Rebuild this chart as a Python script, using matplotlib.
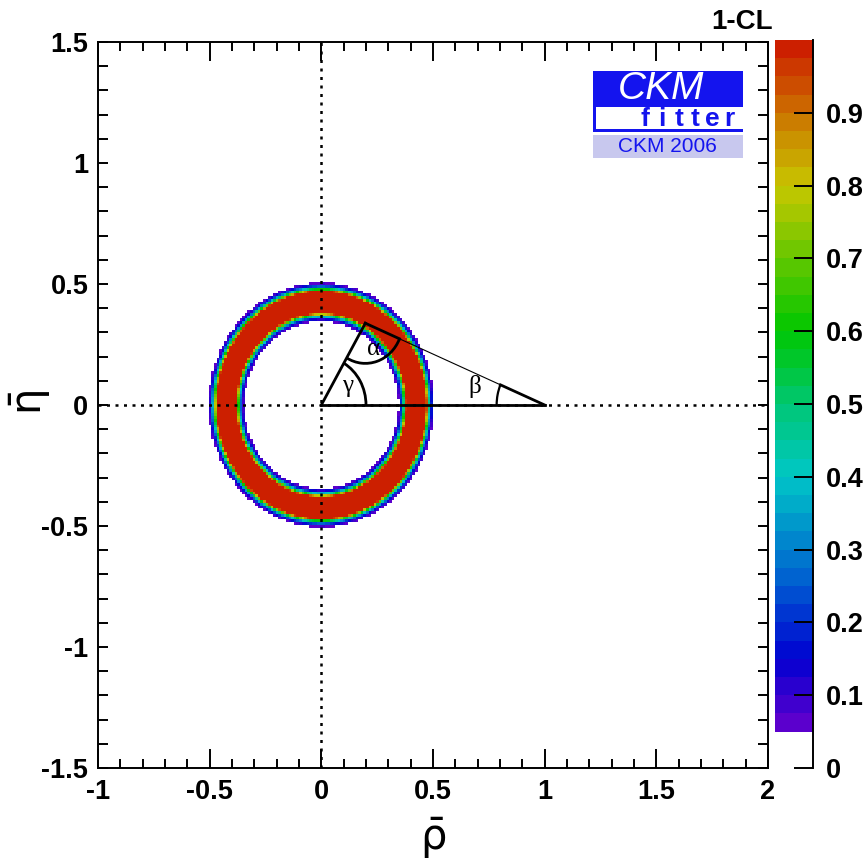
import numpy as np
import matplotlib
matplotlib.use("Agg")
import matplotlib.pyplot as plt
from matplotlib.colors import LinearSegmentedColormap, BoundaryNorm
from matplotlib.patches import Arc, Rectangle
from matplotlib.ticker import MultipleLocator, FormatStrFormatter
from math import erfc

plt.rcParams['font.family'] = ['Liberation Sans', 'DejaVu Sans']
plt.rcParams['axes.unicode_minus'] = False
plt.rcParams['mathtext.fontset'] = 'dejavusans'

# |Vub/Vcb| ring: flat (Rfit) range in radius plus gaussian tails
r_low, r_high = 0.38, 0.47
sigma_r = 0.018

# unitarity triangle apex (rho-bar, eta-bar)
apex = (0.197, 0.338)

# 1-CL colour levels
levels = np.arange(0.05, 1.0001, 0.025)
cb_ticks = [0, 0.1, 0.2, 0.3, 0.4, 0.5, 0.6, 0.7, 0.8, 0.9]

# rainbow palette nodes
pal_pos = [0.0, 0.105, 0.21, 0.368, 0.474, 0.579, 0.789, 0.895, 1.0]
pal_col = [(0.40, 0.00, 0.80), (0.00, 0.00, 0.82), (0.00, 0.35, 0.82),
           (0.00, 0.78, 0.78), (0.00, 0.78, 0.45), (0.00, 0.78, 0.00),
           (0.78, 0.78, 0.00), (0.80, 0.45, 0.00), (0.80, 0.08, 0.00)]
base = LinearSegmentedColormap.from_list('ckm', list(zip(pal_pos, pal_col)))
mids = 0.5 * (levels[:-1] + levels[1:])
band_colors = [base((m - 0.05) / 0.95) for m in mids]
cmap = matplotlib.colors.ListedColormap(band_colors)
norm = BoundaryNorm(levels, cmap.N)

W, H = 867, 860
def fx(px):
    return px / W
def fy(py):
    return 1 - py / H

# CL map on a coarse grid
xe = np.linspace(-1, 2, 261)
ye = np.linspace(-1.5, 1.5, 261)
xc = 0.5 * (xe[:-1] + xe[1:])
yc = 0.5 * (ye[:-1] + ye[1:])
X, Y = np.meshgrid(xc, yc)
R = np.hypot(X, Y)
d = np.where(R < r_low, r_low - R, np.where(R > r_high, R - r_high, 0.0))
cl = np.vectorize(lambda v: erfc(v / (sigma_r * np.sqrt(2))))(d)
cl = np.ma.masked_less(cl, 0.05)

fig = plt.figure(figsize=(8.67, 8.60), dpi=100)
ax = fig.add_axes([fx(98), fy(768), fx(768) - fx(98), fy(42) - fy(768)])
ax.pcolormesh(xe, ye, cl, cmap=cmap, norm=norm, shading='flat', antialiased=False)

ax.set_xlim(-1, 2)
ax.set_ylim(-1.5, 1.5)

# dotted axes through the origin
ax.axvline(0, color='black', ls=(0, (1.2, 2.2)), lw=1.8)
ax.axhline(0, color='black', ls=(0, (1.2, 2.2)), lw=1.8)

# unitarity triangle
ax.plot([0, 1], [0, 0], color='black', lw=2.0)
ax.plot([0, apex[0]], [0, apex[1]], color='black', lw=2.0)
ax.plot([apex[0], 1], [apex[1], 0], color='black', lw=0.8)
ang_a = np.degrees(np.arctan2(-apex[1], 1 - apex[0]))
ang_o = np.degrees(np.arctan2(-apex[1], -apex[0])) + 360
ang_g = np.degrees(np.arctan2(apex[1], apex[0]))
ang_b = 180 + ang_a
ra, rg, rb = 0.166, 0.2, 0.215
u = np.array([np.cos(np.radians(ang_a)), np.sin(np.radians(ang_a))])
ax.plot([apex[0], apex[0] + ra * u[0]], [apex[1], apex[1] + ra * u[1]], color='black', lw=2.0)
ax.plot([1, 1 - rb * u[0]], [0, -rb * u[1]], color='black', lw=2.0)
ax.add_patch(Arc(apex, 2 * ra, 2 * ra, theta1=ang_o, theta2=ang_a + 360, color='black', lw=2.0))
ax.add_patch(Arc((0, 0), 2 * rg, 2 * rg, theta1=0, theta2=ang_g, color='black', lw=2.0))
ax.add_patch(Arc((1, 0), 2 * rb, 2 * rb, theta1=ang_b, theta2=180, color='black', lw=1.6))
gk = dict(family='Liberation Serif', fontsize=18, ha='center', va='center')
ax.text(0.118, 0.08, 'γ', **gk)
ax.text(0.232, 0.232, 'α', **gk)
ax.text(0.685, 0.075, 'β', **gk)

# frame and ticks
for s in ax.spines.values():
    s.set_linewidth(1.4)
ax.xaxis.set_major_locator(MultipleLocator(0.5))
ax.xaxis.set_minor_locator(MultipleLocator(0.1))
ax.yaxis.set_major_locator(MultipleLocator(0.5))
ax.yaxis.set_minor_locator(MultipleLocator(0.1))
ax.xaxis.set_major_formatter(FormatStrFormatter('%g'))
ax.yaxis.set_major_formatter(FormatStrFormatter('%g'))
ax.tick_params(axis='x', which='major', direction='in', length=14, width=1.4,
               top=True, bottom=True, labelsize=19.5, pad=8)
ax.tick_params(axis='x', which='minor', direction='in', length=6.5, width=1.4,
               top=True, bottom=True)
ax.tick_params(axis='y', which='both', direction='in', length=7, width=1.4,
               left=True, right=True, labelsize=19.5, pad=7)
for lab in ax.get_xticklabels() + ax.get_yticklabels():
    lab.set_fontweight('bold')

fig.text(0.5, fy(838), r'$\bar{\mathrm{\rho}}$', fontsize=30, ha='center', va='center')
fig.text(fx(30), fy(403), r'$\bar{\mathrm{\eta}}$', fontsize=30, ha='center', va='center',
         rotation=90)

# colour scale
cax = fig.add_axes([fx(775), fy(768), fx(813) - fx(775), fy(40) - fy(768)])
cax.pcolormesh([0, 1], levels, mids.reshape(-1, 1), cmap=cmap, norm=norm,
               shading='flat', antialiased=False)
cax.set_xlim(0, 1)
cax.set_ylim(0, 1)
for side in ['left', 'top', 'bottom']:
    cax.spines[side].set_visible(False)
cax.spines['right'].set_linewidth(1.4)
cax.set_xticks([])
cax.yaxis.tick_right()
cax.set_yticks(cb_ticks)
cax.yaxis.set_major_formatter(FormatStrFormatter('%g'))
cax.tick_params(axis='y', direction='in', length=14, width=1.4, labelsize=19.5, pad=9)
for lab in cax.get_yticklabels():
    lab.set_fontweight('bold')
fig.text(fx(773), fy(22), '1-CL', fontsize=20, fontweight='bold', ha='right', va='center')

# CKMfitter logo
blue = '#1414ee'
fig.add_artist(Rectangle((fx(593), fy(132)), fx(743) - fx(593), fy(71) - fy(132),
                         transform=fig.transFigure, facecolor=blue, edgecolor='none'))
fig.add_artist(Rectangle((fx(596), fy(129)), fx(743) - fx(596), fy(107) - fy(129),
                         transform=fig.transFigure, facecolor='white', edgecolor='none'))
fig.add_artist(Rectangle((fx(593), fy(158)), fx(743) - fx(593), fy(135) - fy(158),
                         transform=fig.transFigure, facecolor='#c8c8ee', edgecolor='none'))
fig.text(fx(661), fy(89), 'CKM', fontsize=28, style='italic', color='white',
         ha='center', va='center')
for i, ch in enumerate('fitter'):
    fig.text(fx(645 + 16.8 * i), fy(119), ch, fontsize=19, fontweight='bold',
             color=blue, ha='center', va='center')
fig.text(fx(667), fy(147), 'CKM 2006', fontsize=15, color=blue, ha='center', va='center')

fig.savefig('out.png', dpi=100)
